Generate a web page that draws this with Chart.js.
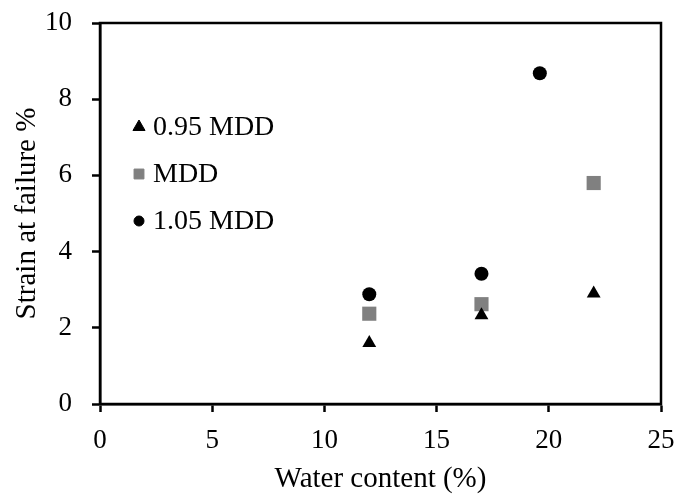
<!DOCTYPE html>
<html>
<head>
<meta charset="utf-8">
<script src="https://cdn.jsdelivr.net/npm/chart.js"></script>
<style>
  html, body { margin: 0; padding: 0; background: #fff; }
  #wrap { width: 675px; height: 497px; position: relative; }
</style>
</head>
<body>
<div id="wrap"><canvas id="strainChart"></canvas></div>
<script>
// Data
const seriesLabels = ['0.95 MDD', 'MDD', '1.05 MDD'];
const waterLow = [12, 17, 22];          // 0.95 MDD and MDD
const waterHigh = [12, 17, 19.6];       // 1.05 MDD
const strain095 = [1.6, 2.33, 2.9];
const strainMDD = [2.37, 2.62, 5.8];
const strain105 = [2.88, 3.42, 8.68];
const xTicks = [0, 5, 10, 15, 20, 25];
const yTicks = [0, 2, 4, 6, 8, 10];

const toPoints = (xs, ys) => xs.map((x, i) => ({ x: x, y: ys[i] }));

const serif = 'Liberation Serif, "Times New Roman", serif';

// box around the plot + legend inside the plot area
const framePlugin = {
  id: 'frame',
  afterDraw(chart) {
    const { ctx, chartArea: a } = chart;
    ctx.save();
    ctx.strokeStyle = '#000';
    ctx.lineWidth = 2.5;
    ctx.strokeRect(a.left, a.top, a.right - a.left, a.bottom - a.top);

    // legend
    const legendSizes = [7, 7, 5];
    ctx.font = '28px ' + serif;
    ctx.textBaseline = 'middle';
    ctx.fillStyle = '#000';
    chart.data.datasets.forEach((ds, i) => {
      const cx = a.left + 39;
      const cy = a.top + 104 + i * 47;
      ctx.save();
      ctx.fillStyle = ds.backgroundColor;
      ctx.strokeStyle = ds.backgroundColor;
      ctx.lineWidth = 1;
      Chart.helpers.drawPoint(ctx, { pointStyle: ds.pointStyle, radius: legendSizes[i], rotation: 0, borderWidth: 1 }, cx, cy);
      ctx.restore();
      ctx.fillText(ds.label, a.left + 53, cy + 1);
    });
    ctx.restore();
  }
};

// keep label overflow from moving the plot area
const noPad = (scale) => {
  scale.paddingTop = 0;
  scale.paddingBottom = 0;
  scale.paddingLeft = 0;
  scale.paddingRight = 0;
};

new Chart(document.getElementById('strainChart'), {
  type: 'scatter',
  data: {
    datasets: [
      {
        label: seriesLabels[0],
        data: toPoints(waterLow, strain095),
        pointStyle: 'triangle',
        pointRadius: 8,
        backgroundColor: '#000',
        borderColor: '#000',
        borderWidth: 0
      },
      {
        label: seriesLabels[1],
        data: toPoints(waterLow, strainMDD),
        pointStyle: 'rect',
        pointRadius: 10,
        backgroundColor: '#808080',
        borderColor: '#808080',
        borderWidth: 0
      },
      {
        label: seriesLabels[2],
        data: toPoints(waterHigh, strain105),
        pointStyle: 'circle',
        pointRadius: 7,
        backgroundColor: '#000',
        borderColor: '#000',
        borderWidth: 0
      }
    ]
  },
  options: {
    responsive: true,
    maintainAspectRatio: false,
    animation: false,
    layout: { padding: { top: 23, right: 14, left: 0, bottom: 0 } },
    plugins: {
      legend: { display: false },
      tooltip: { enabled: false }
    },
    scales: {
      x: {
        type: 'linear',
        min: 0,
        max: 25,
        afterBuildTicks: (scale) => { scale.ticks = xTicks.map(v => ({ value: v })); },
        afterFit: (scale) => { scale.height = 93; noPad(scale); },
        border: { display: true, color: '#000', width: 2.5 },
        grid: { display: true, drawOnChartArea: false, drawTicks: true, tickLength: 8, tickColor: '#000', tickWidth: 2.5 },
        ticks: { color: '#000', font: { family: serif, size: 27 }, padding: 13, maxRotation: 0 },
        title: { display: true, text: 'Water content (%)', color: '#000', font: { family: serif, size: 29 }, padding: { top: 0, bottom: 0 } }
      },
      y: {
        type: 'linear',
        min: 0,
        max: 10,
        afterBuildTicks: (scale) => { scale.ticks = yTicks.map(v => ({ value: v })); },
        afterFit: (scale) => { scale.width = 100; noPad(scale); },
        border: { display: true, color: '#000', width: 2.5 },
        grid: { display: true, drawOnChartArea: false, drawTicks: true, tickLength: 8, tickColor: '#000', tickWidth: 2.5 },
        ticks: { color: '#000', font: { family: serif, size: 27 }, padding: 20 },
        title: { display: true, text: 'Strain at failure %', color: '#000', font: { family: serif, size: 29 }, padding: { top: 10, bottom: 0 } }
      }
    }
  },
  plugins: [framePlugin]
});
</script>
</body>
</html>
